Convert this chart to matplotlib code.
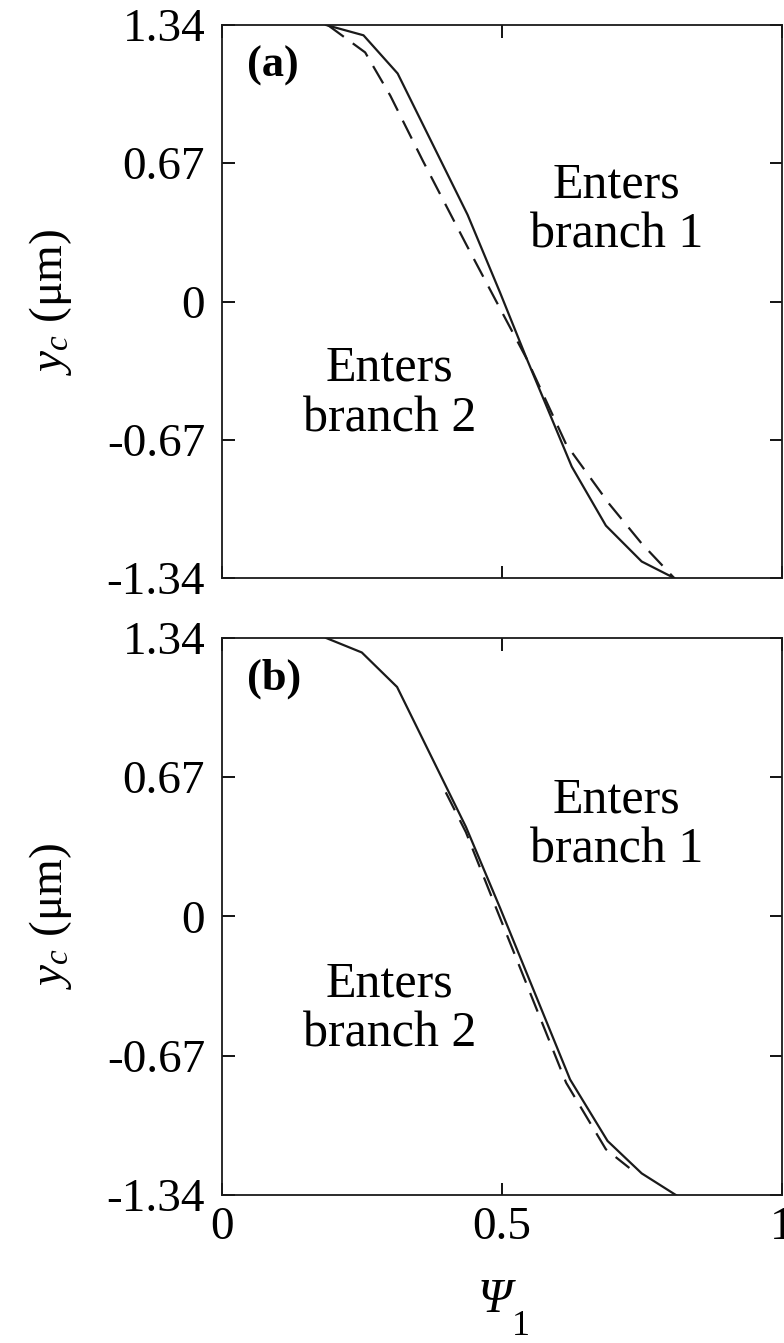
import matplotlib
matplotlib.use('Agg')
import matplotlib.pyplot as plt

plt.rcParams['font.family'] = ['Liberation Serif', 'DejaVu Serif']
plt.rcParams['mathtext.fontset'] = 'custom'
plt.rcParams['mathtext.rm'] = 'Liberation Serif'
plt.rcParams['mathtext.it'] = 'Liberation Serif:italic'

# panel (a): solid and dashed boundary curves (psi_1, y_c)
a_solid_x = [0.186, 0.253, 0.314, 0.439, 0.497, 0.545, 0.625, 0.686, 0.750, 0.808]
a_solid_y = [1.34, 1.29, 1.105, 0.42, 0.043, -0.28, -0.80, -1.086, -1.26, -1.34]
a_dash_x = [0.189, 0.256, 0.301, 0.359, 0.436, 0.487, 0.545, 0.615, 0.692, 0.750, 0.808]
a_dash_y = [1.34, 1.207, 0.997, 0.682, 0.279, 0.017, -0.28, -0.692, -0.981, -1.173, -1.34]

# panel (b)
b_solid_x = [0.186, 0.250, 0.313, 0.436, 0.497, 0.622, 0.689, 0.750, 0.811]
b_solid_y = [1.34, 1.27, 1.104, 0.431, 0.041, -0.784, -1.08, -1.236, -1.34]
b_dash_x = [0.400, 0.436, 0.490, 0.615, 0.686, 0.728]
b_dash_y = [0.597, 0.405, 0.04, -0.80, -1.12, -1.21]

yticks = [-1.34, -0.67, 0, 0.67, 1.34]
ytick_labels = ['-1.34', '-0.67', '0', '0.67', '1.34']
xticks = [0, 0.5, 1]
xtick_labels = ['0', '0.5', '1']

panels = [
    ('(a)', a_solid_x, a_solid_y, a_dash_x, a_dash_y),
    ('(b)', b_solid_x, b_solid_y, b_dash_x, b_dash_y),
]

fig = plt.figure(figsize=(7.84, 13.43), dpi=100, facecolor='white')
rects = [[0.283, 0.5696, 0.714, 0.4118], [0.283, 0.1102, 0.714, 0.4148]]

for i, (tag, sx, sy, dx, dy) in enumerate(panels):
    ax = fig.add_axes(rects[i])
    ax.plot(sx, sy, color='#1a1a1a', lw=1.6)
    ax.plot(dx, dy, color='#1a1a1a', lw=1.6, dashes=(9, 5))
    ax.set_xlim(0, 1)
    ax.set_ylim(-1.34, 1.34)
    ax.set_xticks(xticks)
    ax.set_yticks(yticks)
    ax.set_yticklabels(ytick_labels)
    if i == 0:
        ax.set_xticklabels([])
    else:
        ax.set_xticklabels(xtick_labels)
    ax.tick_params(direction='in', length=9, width=1.3, labelsize=34,
                   top=True, right=True, pad=12)
    ax.tick_params(axis='x', pad=8)
    for sp in ax.spines.values():
        sp.set_linewidth(1.3)
        sp.set_color('#1a1a1a')
    ax.set_ylabel(r'$y_c$ (μm)', fontsize=34)
    ax.yaxis.set_label_coords(-0.265, 0.5)
    ax.text(0.045, 1.24, tag, fontsize=32, fontweight='bold', va='top', ha='left')
    ax.text(0.705, 0.44, 'Enters\nbranch 1', fontsize=36, ha='center', va='center',
            linespacing=1.1)
    ax.text(0.30, -0.447, 'Enters\nbranch 2', fontsize=36, ha='center', va='center',
            linespacing=1.1)

# x label: italic Psi with a low subscript
fig.text(0.631, 0.0231, 'Ψ', fontsize=35, fontstyle='italic', ha='center', va='baseline')
fig.text(0.6645, 0.006, '1', fontsize=26, ha='center', va='baseline')

fig.savefig('out.png', dpi=100, facecolor='white')
